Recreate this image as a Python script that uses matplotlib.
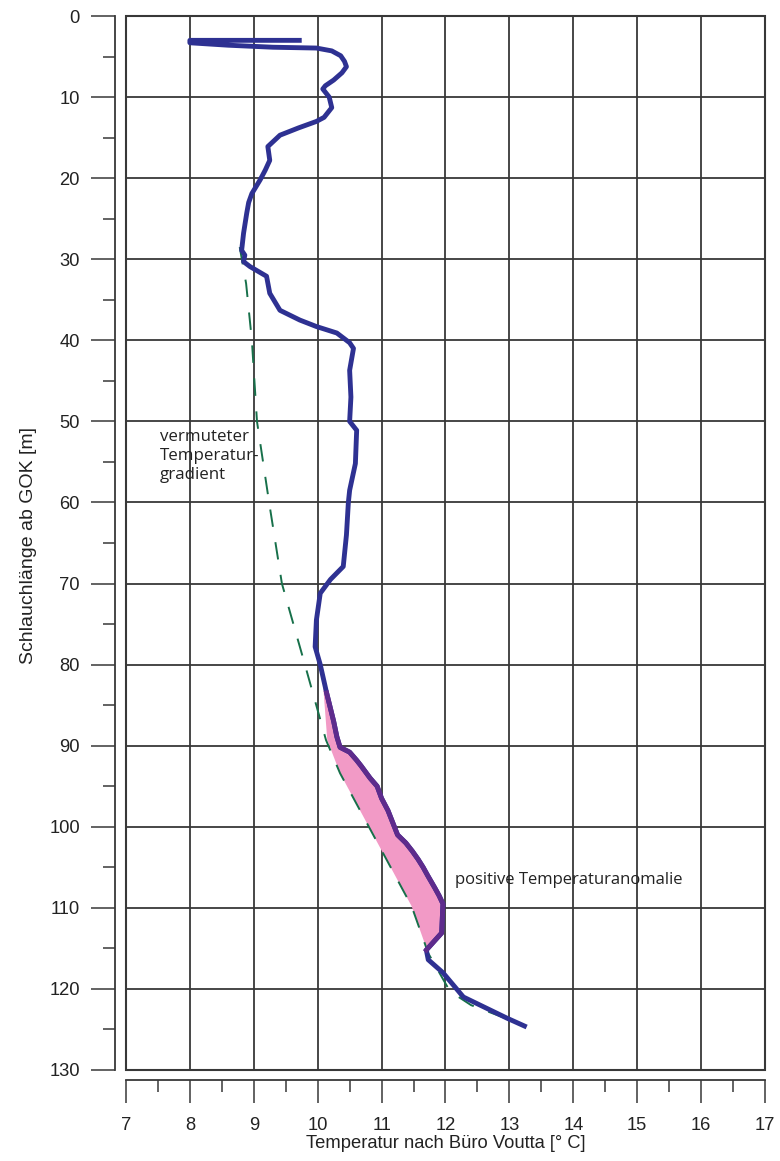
import matplotlib
matplotlib.use("Agg")
import matplotlib.pyplot as plt
from matplotlib.patches import Rectangle
from matplotlib.ticker import MultipleLocator

plt.rcParams['font.family'] = ['Liberation Sans', 'DejaVu Sans']

# measured temperature profile (temperature °C, hose length m)
profile_temp = [9.75, 8.0, 8.0, 8.6, 9.3, 9.98, 10.22, 10.36, 10.42, 10.45, 10.38, 10.25, 10.12, 10.08,
                10.18, 10.22, 10.1, 9.98, 9.7, 9.41, 9.22, 9.25, 9.18, 9.1, 8.97, 8.92, 8.89,
                8.84, 8.81, 8.86, 8.84, 8.94, 9.2, 9.25, 9.41, 9.72, 9.98, 10.3, 10.5, 10.56,
                10.5, 10.52, 10.5, 10.61, 10.59, 10.5, 10.48, 10.45, 10.4, 10.2, 10.04, 9.98,
                9.96, 10.04, 10.14, 10.25, 10.3, 10.35, 10.5, 10.61, 10.68, 10.82, 10.93, 11.0,
                11.1, 11.2, 11.25, 11.38, 11.48, 11.57, 11.65, 11.72, 11.83, 11.9, 11.96,
                11.94, 11.7, 11.73, 11.96, 12.28, 12.96, 13.27]
profile_depth = [3.0, 3.0, 3.3, 3.6, 3.85, 3.95, 4.3, 4.9, 5.6, 6.25, 7.0, 7.9, 8.6, 9.0,
                 10.0, 11.3, 12.5, 13.0, 13.8, 14.7, 16.1, 17.8, 19.0, 20.2, 21.9, 23.0, 24.3,
                 26.8, 28.9, 29.5, 30.3, 30.9, 32.1, 34.2, 36.3, 37.5, 38.3, 39.1, 40.3, 41.0,
                 43.7, 47.0, 50.0, 51.1, 55.2, 58.5, 60.0, 64.0, 67.9, 69.5, 71.2, 74.5,
                 77.8, 80.0, 83.5, 87.0, 88.9, 90.2, 90.8, 91.8, 92.5, 94.0, 95.0, 96.5,
                 98.0, 100.0, 101.0, 102.0, 103.0, 104.0, 105.0, 106.0, 107.5, 108.5, 109.5,
                 113.1, 115.2, 116.4, 118.0, 121.0, 123.6, 124.7]

# assumed temperature gradient (dashed)
grad_temp = [8.78, 8.88, 8.97, 9.05, 9.24, 9.44, 9.8, 10.13, 10.35, 11.47, 11.73, 12.07, 12.4, 13.0, 13.25]
grad_depth = [28.5, 33.0, 40.0, 50.0, 60.0, 70.0, 80.0, 89.3, 93.4, 109.8, 115.6, 120.3, 122.0, 123.8, 124.6]

# left boundary of the positive anomaly area
anom_left_temp = [10.08, 10.15, 10.35, 11.47, 11.72]
anom_left_depth = [82.0, 89.3, 93.4, 109.8, 115.4]
anom_top, anom_bottom = 82.0, 115.3

xticks = list(range(7, 18))
yticks = list(range(0, 131, 10))

grid_c = '#383838'
blue = '#2e3192'

fig = plt.figure(figsize=(7.8, 11.61), dpi=100)
ax = fig.add_axes([0.1615, 0.0784, 0.8193, 0.9078])
ax.set_xlim(7, 17)
ax.set_ylim(130, 0)

# anomaly polygon
seg_t = [t for t, d in zip(profile_temp, profile_depth) if anom_top <= d <= anom_bottom]
seg_d = [d for t, d in zip(profile_temp, profile_depth) if anom_top <= d <= anom_bottom]
poly_t = [anom_left_temp[0]] + seg_t + anom_left_temp[::-1]
poly_d = [anom_top] + seg_d + anom_left_depth[::-1]
ax.fill(poly_t, poly_d, color='#f29ac6', lw=0, zorder=2)

ax.plot(grad_temp, grad_depth, color='#17704a', lw=1.4, dashes=(9, 8), zorder=3)
ax.plot(profile_temp, profile_depth, color=blue, lw=3.5, solid_joinstyle='round',
        solid_capstyle='butt', zorder=4)
ax.plot(seg_t, seg_d, color='#5e2b8c', lw=3.5, solid_joinstyle='round', zorder=5)

ax.set_xticks(xticks)
ax.set_yticks(yticks)
ax.xaxis.set_minor_locator(MultipleLocator(0.5))
ax.yaxis.set_minor_locator(MultipleLocator(5))
ax.grid(True, which='major', color=grid_c, lw=1.3, zorder=1)
ax.set_axisbelow(True)

for s in ['top', 'right']:
    ax.spines[s].set_visible(False)
ax.spines['left'].set_position(('outward', 7.9))
ax.spines['bottom'].set_position(('outward', 7.2))
for s in ['left', 'bottom']:
    ax.spines[s].set_color(grid_c)
    ax.spines[s].set_linewidth(1.3)
ax.add_patch(Rectangle((0, 0), 1, 1, transform=ax.transAxes, fill=False,
                       ec=grid_c, lw=1.5, clip_on=False, zorder=6))

ax.tick_params(axis='both', which='major', direction='out', color=grid_c, width=1.1,
               labelsize=13.2, labelcolor='#222222')
ax.tick_params(axis='x', which='major', length=16.5, pad=10)
ax.tick_params(axis='x', which='minor', length=8.6, width=1.1, color=grid_c)
ax.tick_params(axis='y', which='major', length=17.3, pad=8)
ax.tick_params(axis='y', which='minor', length=8.6, width=1.1, color=grid_c)

ax.set_xlabel('Temperatur nach Büro Voutta [° C]', fontsize=13.2, color='#222222')
ax.xaxis.set_label_coords(0.5, -0.0615)
ax.set_ylabel('Schlauchlänge ab GOK [m]', fontsize=14, color='#222222')
ax.yaxis.set_label_coords(-0.139, 0.498)

ax.text(7.53, 51.0, 'vermuteter\nTemperatur-\ngradient', family=['Open Sans', 'DejaVu Sans'],
        fontsize=12.2, va='top', ha='left', linespacing=1.25, color='#222222', zorder=7)
ax.text(12.15, 106.6, 'positive Temperaturanomalie', family=['Open Sans', 'DejaVu Sans'],
        fontsize=12.0, va='center', ha='left', color='#222222', zorder=7)

fig.savefig('out.png', dpi=100)
